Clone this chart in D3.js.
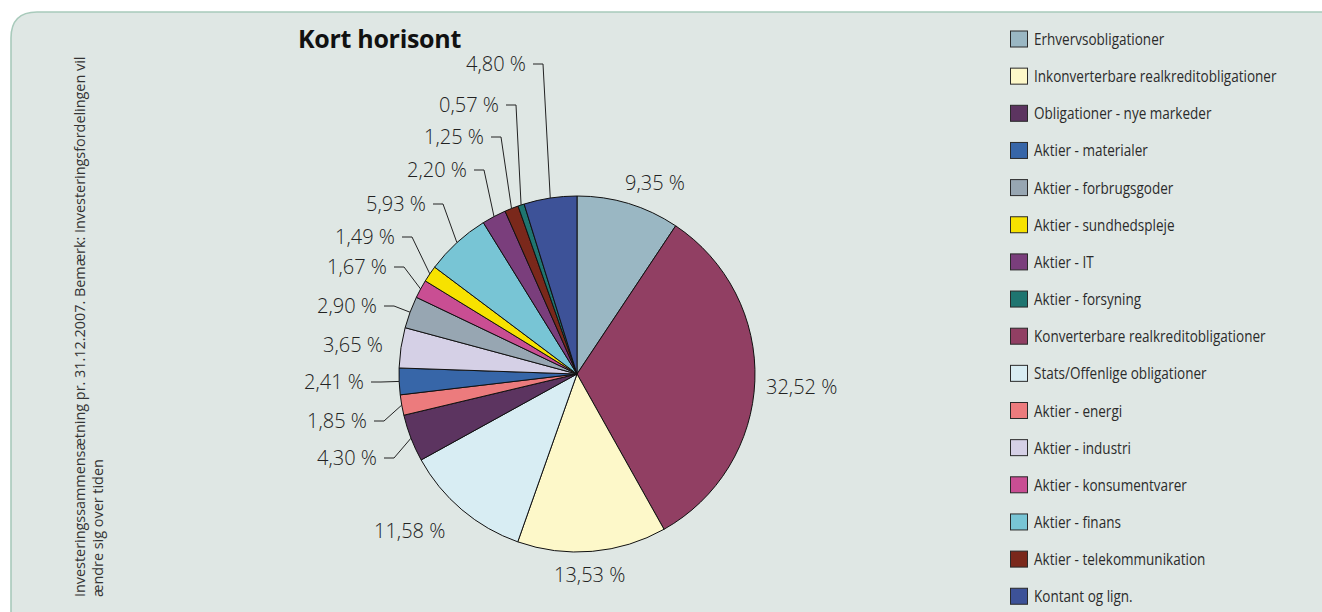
<!DOCTYPE html>
<html><head><meta charset="utf-8">
<script src="https://cdn.jsdelivr.net/npm/d3@7"></script>
<style>body{margin:0;background:#fff;} svg{display:block}</style>
</head><body>
<svg id="chart" width="1322" height="612"></svg>
<script>
// ---- data (pie order, clockwise from 12 o'clock) ----
const categories = ["Erhvervsobligationer","Konverterbare realkreditobligationer","Inkonverterbare realkreditobligationer","Stats/Offenlige obligationer","Obligationer - nye markeder","Aktier - energi","Aktier - materialer","Aktier - industri","Aktier - forbrugsgoder","Aktier - konsumentvarer","Aktier - sundhedspleje","Aktier - finans","Aktier - IT","Aktier - telekommunikation","Aktier - forsyning","Kontant og lign."];
const values = [9.35,32.52,13.53,11.58,4.30,1.85,2.41,3.65,2.90,1.67,1.49,5.93,2.20,1.25,0.57,4.80];
const colors = ["#9ab7c3","#913f63","#fdf8c9","#d8edf3","#5c3460","#ec7b7d","#3766a8","#d5d0e6","#97a6b2","#c94e93","#f7e200","#78c5d5","#7a3e7c","#7a281b","#1f7570","#3d5298"];
const legendOrder = ["Erhvervsobligationer","Inkonverterbare realkreditobligationer","Obligationer - nye markeder","Aktier - materialer","Aktier - forbrugsgoder","Aktier - sundhedspleje","Aktier - IT","Aktier - forsyning","Konverterbare realkreditobligationer","Stats/Offenlige obligationer","Aktier - energi","Aktier - industri","Aktier - konsumentvarer","Aktier - finans","Aktier - telekommunikation","Kontant og lign."];
const title = "Kort horisont";
const noteLines = ["Investeringssammensætning pr. 31.12.2007. Bemærk: Investeringsfordelingen vil","ændre sig over tiden"];

// ---- label layout (offset of label anchor from pie centre; leader lines drawn to slice edge) ----
const labelDX = [48,189,-23,-203,-200,-210,-213,-194,-200,-190,-182,-151,-110,-93,-78,-51];
const labelDY = [-191,13,201,157,84,47,8,-29,-68,-107,-137,-170,-204,-237,-269,-310];
const labelAnchor = ["start","start","start","start","end","end","end","end","end","end","end","end","end","end","end","end"];
const labelLeader = [false,false,false,false,true,true,true,false,true,true,true,true,true,true,true,true];

const svg = d3.select("#chart");
const W = 1322, H = 612;

// panel
const px = 11, py = 12, rc = 26;
svg.append("path")
  .attr("d", `M${px},${H+5} L${px},${py+rc} Q${px},${py} ${px+rc},${py} L${W+5},${py} L${W+5},${H+5} Z`)
  .attr("fill", "#dfe7e4").attr("stroke", "#a8cabb").attr("stroke-width", 1.6);

// title
svg.append("text").attr("x", 298).attr("y", 48)
  .attr("font-family", "'Open Sans', sans-serif").attr("font-weight", 700)
  .attr("font-size", 25).attr("fill", "#111").attr("letter-spacing", -0.3).text(title);

// note
const note = svg.append("text")
  .attr("transform", "translate(85,597) rotate(-90)")
  .attr("font-family", "'Open Sans', sans-serif").attr("font-size", 14.4)
  .attr("fill", "#333");
noteLines.forEach((t, i) => note.append("tspan").attr("x", 0).attr("y", i * 18).text(t));

// pie
const cx = 577, cy = 374, R = 178;
const pie = d3.pie().sort(null).value(d => d)(values);
const arc = d3.arc().innerRadius(0).outerRadius(R);
const edge = d3.arc().innerRadius(R).outerRadius(R);
const g = svg.append("g").attr("transform", `translate(${cx},${cy})`);
g.selectAll("path.slice").data(pie).join("path").attr("class", "slice")
  .attr("d", arc).attr("fill", (d, i) => colors[i])
  .attr("stroke", "#111").attr("stroke-width", 1).attr("stroke-linejoin", "round");

// labels
const fmt = v => v.toFixed(2).replace(".", ",") + " %";
const labelFont = "'Open Sans', sans-serif";
pie.forEach((d, i) => {
  const lx = labelDX[i], ly = labelDY[i];
  g.append("text").attr("x", lx).attr("y", ly).attr("dy", "0.36em")
    .attr("text-anchor", labelAnchor[i]).attr("font-family", labelFont).attr("font-weight", 300)
    .attr("font-size", 20).attr("fill", "#222").text(fmt(values[i]));
  if (labelLeader[i]) {
    const [ex, ey] = edge.centroid(d);
    const x0 = lx + 7, x1 = lx + 17;
    g.append("path").attr("d", `M${x0},${ly}L${x1},${ly}L${ex},${ey}`)
      .attr("fill", "none").attr("stroke", "#222").attr("stroke-width", 1);
  }
});

// legend
const legend = svg.append("g");
const rowY = i => 39 + i * 37.15;
legendOrder.forEach((name, i) => {
  const ci = categories.indexOf(name);
  const y = rowY(i);
  legend.append("rect").attr("x", 1010.5).attr("y", y - 8).attr("width", 17).attr("height", 16)
    .attr("fill", colors[ci]).attr("stroke", "#2a2a2a").attr("stroke-width", 1);
  legend.append("text").attr("transform", `translate(1034,${y + 6}) scale(0.82,1)`)
    .attr("font-family", "'Open Sans', sans-serif").attr("font-size", 16.5)
    .attr("fill", "#2b2b2b").text(name);
});
</script>
</body></html>
